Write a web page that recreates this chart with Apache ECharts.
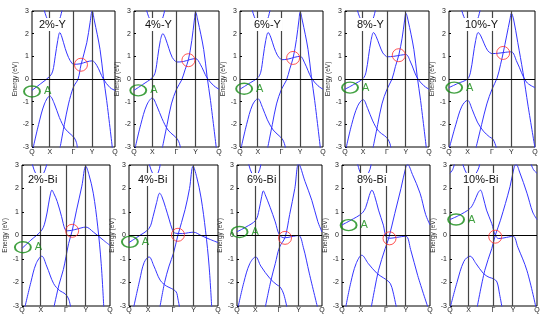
<!DOCTYPE html>
<html><head><meta charset="utf-8">
<script src="https://cdn.jsdelivr.net/npm/echarts@6/dist/echarts.min.js"></script>
<style>html,body{margin:0;padding:0;background:#fff}#c{width:550px;height:321px}</style>
</head><body><div id="c"></div>
<script>
// ---- data ----
const kpos = [0, 0.215, 0.5, 0.725, 1];
const klabels = ['Q', 'X', 'Γ', 'Y', 'Q'];
const titles = ['2%-Y', '4%-Y', '6%-Y', '8%-Y', '10%-Y', '2%-Bi', '4%-Bi', '6%-Bi', '8%-Bi', '10%-Bi'];

const bands_Y2 = [
  [[0,-0.5],[0.1,-0.22],[0.215,0.12],[0.25,0.35],[0.28,1.0],[0.31,1.7],[0.335,2.05],[0.36,1.85],[0.4,1.35],[0.44,0.95],[0.48,0.7],[0.5,0.65],[0.58,0.67],[0.66,0.76],[0.725,0.8],[0.78,0.6],[0.86,0.0],[0.94,-0.38],[1,-0.5]],
  [[0.01,-3.1],[0.08,-2.0],[0.15,-1.1],[0.215,-0.75],[0.27,-1.1],[0.33,-1.7],[0.4,-2.2],[0.47,-2.45],[0.51,-2.6],[0.535,-2.8],[0.55,-3.1]],
  [[0.335,-3.1],[0.39,-2.0],[0.44,-1.1],[0.5,-0.35],[0.555,0.0],[0.59,0.62],[0.66,1.6],[0.7,2.5],[0.725,3.0],[0.75,2.6],[0.82,1.3],[0.86,0.1],[0.9,-0.95],[0.97,-3.1]],
  [[0.13,3.4],[0.15,3.0],[0.2,2.55],[0.26,2.4],[0.32,2.55],[0.36,3.0],[0.38,3.4]]
];
const bands_Y4 = [
  [[0,-0.5],[0.1,-0.25],[0.215,0.06],[0.25,0.3],[0.28,1.0],[0.31,1.7],[0.34,2.0],[0.37,1.8],[0.41,1.35],[0.45,0.95],[0.49,0.77],[0.5,0.75],[0.58,0.77],[0.66,0.86],[0.725,0.9],[0.78,0.65],[0.86,0.05],[0.94,-0.3],[1,-0.45]],
  [[0.01,-3.1],[0.08,-2.0],[0.15,-1.15],[0.215,-0.84],[0.27,-1.2],[0.33,-1.75],[0.4,-2.25],[0.47,-2.5],[0.51,-2.65],[0.535,-2.85],[0.55,-3.1]],
  [[0.33,-3.1],[0.39,-2.0],[0.44,-1.1],[0.5,-0.45],[0.56,-0.05],[0.6,0.4],[0.64,0.85],[0.68,1.7],[0.71,2.6],[0.725,2.95],[0.75,2.6],[0.82,1.3],[0.86,0.1],[0.9,-0.95],[0.97,-3.1]],
  [[0.13,3.4],[0.15,3.0],[0.2,2.55],[0.26,2.4],[0.32,2.55],[0.36,3.0],[0.38,3.4]]
];
const bands_Y6 = [
  [[0,-0.45],[0.1,-0.22],[0.215,0.06],[0.25,0.3],[0.28,1.0],[0.31,1.7],[0.34,2.05],[0.37,1.85],[0.41,1.4],[0.45,1.05],[0.49,0.87],[0.5,0.85],[0.58,0.88],[0.66,0.96],[0.725,1.0],[0.78,0.7],[0.86,0.05],[0.94,-0.3],[1,-0.45]],
  [[0.01,-3.1],[0.08,-2.0],[0.15,-1.15],[0.215,-0.87],[0.27,-1.25],[0.33,-1.8],[0.4,-2.25],[0.47,-2.5],[0.51,-2.65],[0.535,-2.85],[0.55,-3.1]],
  [[0.33,-3.1],[0.39,-2.0],[0.44,-1.1],[0.5,-0.45],[0.56,-0.05],[0.6,0.45],[0.64,0.93],[0.68,1.75],[0.71,2.6],[0.725,2.95],[0.75,2.6],[0.82,1.3],[0.86,0.1],[0.9,-0.95],[0.97,-3.1]],
  [[0.13,3.4],[0.15,3.0],[0.2,2.55],[0.26,2.4],[0.32,2.55],[0.36,3.0],[0.38,3.4]]
];
const bands_Y8 = [
  [[0,-0.45],[0.1,-0.25],[0.215,0.02],[0.25,0.3],[0.28,1.0],[0.31,1.7],[0.34,2.05],[0.37,1.88],[0.41,1.5],[0.45,1.15],[0.49,1.0],[0.5,0.98],[0.58,1.0],[0.66,1.05],[0.725,1.08],[0.78,0.75],[0.86,0.05],[0.94,-0.3],[1,-0.45]],
  [[0.01,-3.1],[0.08,-2.0],[0.15,-1.2],[0.215,-0.91],[0.27,-1.3],[0.33,-1.85],[0.4,-2.3],[0.47,-2.5],[0.51,-2.65],[0.535,-2.85],[0.55,-3.1]],
  [[0.33,-3.1],[0.39,-2.0],[0.44,-1.1],[0.5,-0.45],[0.56,0.0],[0.6,0.55],[0.64,1.05],[0.68,1.8],[0.71,2.6],[0.725,2.9],[0.75,2.6],[0.82,1.3],[0.86,0.1],[0.9,-0.95],[0.97,-3.1]],
  [[0.13,3.4],[0.15,3.0],[0.2,2.55],[0.26,2.4],[0.32,2.55],[0.36,3.0],[0.38,3.4]]
];
const bands_Y10 = [
  [[0,-0.38],[0.1,-0.2],[0.215,0.0],[0.25,0.3],[0.28,1.0],[0.31,1.7],[0.34,2.05],[0.37,1.9],[0.41,1.55],[0.45,1.25],[0.49,1.13],[0.5,1.12],[0.58,1.14],[0.66,1.18],[0.725,1.2],[0.79,0.75],[0.9,-0.13],[1,-0.38]],
  [[0.0,-3.1],[0.08,-2.0],[0.15,-1.2],[0.215,-0.94],[0.27,-1.35],[0.33,-1.9],[0.4,-2.3],[0.47,-2.55],[0.51,-2.65],[0.535,-2.85],[0.555,-3.1]],
  [[0.31,-3.1],[0.38,-2.0],[0.44,-1.1],[0.5,-0.45],[0.56,0.05],[0.6,0.65],[0.63,1.15],[0.67,1.9],[0.71,2.65],[0.725,2.9],[0.75,2.65],[0.8,1.6],[0.86,0.3],[0.92,-1.2],[1.0,-3.05]],
  [[0.13,3.4],[0.15,3.0],[0.2,2.55],[0.26,2.4],[0.32,2.55],[0.36,3.0],[0.38,3.4]]
];
const bands_Bi2 = [
  [[0,-0.55],[0.1,-0.2],[0.225,0.23],[0.27,0.7],[0.3,1.3],[0.325,1.8],[0.34,1.93],[0.36,1.8],[0.4,1.45],[0.45,0.8],[0.49,0.25],[0.52,0.2],[0.6,0.25],[0.67,0.32],[0.725,0.36],[0.81,0.15],[0.925,-0.2],[1,-0.42]],
  [[0.03,-3.1],[0.1,-2.0],[0.16,-1.2],[0.225,-0.88],[0.28,-1.3],[0.36,-2.05],[0.43,-2.35],[0.49,-2.48],[0.53,-2.7],[0.555,-3.1]],
  [[0.36,-3.1],[0.42,-2.1],[0.47,-1.45],[0.5,-0.9],[0.53,-0.34],[0.57,0.2],[0.62,1.08],[0.68,2.1],[0.725,2.95],[0.76,2.6],[0.81,1.8],[0.86,0.4],[0.9,-1.2],[0.93,-3.1]],
  [[0.1,3.4],[0.12,3.0],[0.16,2.6],[0.2,2.45],[0.24,2.6],[0.28,3.0],[0.3,3.4]]
];
const bands_Bi4 = [
  [[0,-0.3],[0.1,-0.05],[0.225,0.3],[0.27,0.8],[0.31,1.4],[0.345,1.8],[0.37,1.65],[0.41,1.2],[0.45,0.7],[0.49,0.22],[0.52,0.1],[0.6,0.08],[0.67,0.12],[0.725,0.14],[0.81,0.0],[0.9,-0.15],[1,-0.3]],
  [[0.05,-3.1],[0.12,-1.9],[0.17,-1.15],[0.225,-0.91],[0.28,-1.3],[0.35,-1.9],[0.42,-2.15],[0.48,-2.26],[0.53,-2.4],[0.55,-2.7],[0.57,-3.1]],
  [[0.345,-3.1],[0.4,-2.0],[0.45,-1.3],[0.5,-0.75],[0.55,0.02],[0.63,1.1],[0.68,2.0],[0.72,2.95],[0.76,2.5],[0.81,1.6],[0.86,0.2],[0.9,-1.3],[0.93,-3.1]],
  [[0.2,3.4],[0.23,3.0],[0.27,2.6],[0.3,2.5],[0.33,2.7],[0.35,3.0],[0.36,3.4]]
];
const bands_Bi6 = [
  [[0,0.16],[0.1,0.35],[0.22,0.65],[0.26,1.1],[0.29,1.65],[0.31,1.9],[0.33,1.75],[0.39,1.2],[0.45,0.58],[0.5,0.02],[0.56,-0.1],[0.64,-0.05],[0.725,0.0],[0.78,-0.5],[0.85,-1.6],[0.95,-3.1]],
  [[0.01,-3.1],[0.08,-2.0],[0.15,-1.2],[0.22,-0.91],[0.28,-1.3],[0.39,-1.84],[0.47,-2.1],[0.51,-2.2],[0.55,-2.5],[0.59,-3.1]],
  [[0.33,-3.1],[0.4,-1.9],[0.45,-1.2],[0.5,-0.5],[0.565,-0.08],[0.62,0.9],[0.68,2.0],[0.725,3.05],[0.8,2.3],[0.88,1.5],[0.95,0.6],[1,0.15]],
  [[0.12,3.4],[0.14,3.0],[0.18,2.6],[0.21,2.5],[0.25,2.65],[0.28,3.0],[0.29,3.4]]
];
const bands_Bi8 = [
  [[0,0.45],[0.1,0.65],[0.225,0.94],[0.27,1.2],[0.31,1.7],[0.34,1.93],[0.37,1.7],[0.415,1.08],[0.47,0.44],[0.5,-0.04],[0.54,-0.12],[0.62,-0.08],[0.725,-0.03],[0.78,-0.6],[0.86,-1.7],[0.98,-3.1]],
  [[0.04,-3.1],[0.1,-2.0],[0.16,-1.2],[0.225,-0.84],[0.3,-1.2],[0.4,-1.62],[0.47,-1.8],[0.51,-1.9],[0.55,-2.05],[0.58,-2.4],[0.62,-3.1]],
  [[0.33,-3.1],[0.37,-2.3],[0.415,-1.48],[0.49,-0.56],[0.53,-0.13],[0.6,0.94],[0.67,2.0],[0.725,2.9],[0.745,3.02],[0.8,2.6],[0.887,1.8],[0.95,0.9],[1,0.45]],
  [[0.17,3.4],[0.18,3.0],[0.22,2.6],[0.26,2.5],[0.3,2.65],[0.33,3.0],[0.34,3.4]]
];
const bands_Bi10 = [
  [[0,0.68],[0.1,0.85],[0.23,1.15],[0.28,1.45],[0.32,1.8],[0.35,1.93],[0.38,1.65],[0.42,1.08],[0.48,0.51],[0.52,0.02],[0.56,-0.13],[0.65,-0.08],[0.725,-0.03],[0.78,-0.5],[0.885,-1.5],[0.99,-3.1]],
  [[0,-3.1],[0.08,-2.0],[0.16,-1.1],[0.23,-0.88],[0.3,-1.2],[0.385,-1.62],[0.45,-1.78],[0.5,-1.84],[0.54,-1.98],[0.57,-2.5],[0.6,-3.1]],
  [[0.31,-3.1],[0.4,-1.48],[0.48,-0.56],[0.52,0.0],[0.58,0.65],[0.69,2.08],[0.74,2.95],[0.76,3.02],[0.8,2.7],[0.885,1.8],[0.95,1.0],[1,0.68]],
  [[0.13,3.4],[0.15,3.0],[0.2,2.6],[0.25,2.5],[0.3,2.65],[0.34,3.0],[0.35,3.4]],
  [[0,2.65],[0.03,2.8],[0.06,3.15]],
  [[0.92,3.15],[0.96,2.8],[1,2.65]]
];
const allBands = [bands_Y2, bands_Y4, bands_Y6, bands_Y8, bands_Y10, bands_Bi2, bands_Bi4, bands_Bi6, bands_Bi8, bands_Bi10];

const redCircles = [[0.59,0.63],[0.64,0.83],[0.64,0.93],[0.64,1.05],[0.63,1.15],[0.57,0.2],[0.55,0.03],[0.565,-0.1],[0.54,-0.12],[0.52,-0.05]];
const aMarks = [[0.0,-0.55],[0.05,-0.5],[0.05,-0.43],[0.06,-0.38],[0.06,-0.38],[0.01,-0.5],[0.01,-0.27],[0.03,0.15],[0.075,0.44],[0.07,0.68]];

// ---- layout ----
const gL = [32,134,240,345,449, 22,129,237,342,450];
const gW = [83,85,83,84,86, 88,89,85,88,87];
const gT = [11,11,11,11,11, 165,165,165,165,165];
const gH = [136,136,136,136,136, 141,141,141,141,141];
const tL = [37,143,252,355,463, 26,136,245,355,461];
const tT = [18,18,18,18,18, 173,173,173,173,173];

const FONT = 'Liberation Sans, Arial, sans-serif';
const BLUE = '#3535ff';
const grid = [], xAxis = [], yAxis = [], series = [], title = [];
for (let i = 0; i < 10; i++) {
  grid.push({left: gL[i], top: gT[i], width: gW[i], height: gH[i], show: true, borderColor: '#000', borderWidth: 1, backgroundColor: 'transparent'});
  xAxis.push({gridIndex: i, type: 'value', min: 0, max: 1,
    axisLine: {show: false}, axisTick: {show: false}, splitLine: {show: false},
    axisLabel: {customValues: kpos, formatter: v => klabels[kpos.indexOf(v)], fontSize: 7, margin: i < 5 ? 2 : 1, color: '#222', fontFamily: FONT, showMinLabel: true, showMaxLabel: true, hideOverlap: false}});
  yAxis.push({gridIndex: i, type: 'value', min: -3, max: 3, interval: 1,
    axisLine: {show: false}, axisTick: {show: true, inside: true, length: 2, lineStyle: {color: '#000'}}, splitLine: {show: false},
    axisLabel: {fontSize: 7, margin: 3, color: '#222', fontFamily: FONT},
    name: 'Energy (eV)', nameLocation: 'middle', nameGap: 10, nameTextStyle: {fontSize: 6.5, color: '#333', fontFamily: FONT}});
  title.push({text: titles[i], left: tL[i], top: tT[i], padding: [1, 2], backgroundColor: '#fff',
    textStyle: {fontSize: 11, fontWeight: 'normal', color: '#111', fontFamily: FONT}});
  allBands[i].forEach((b, j) => {
    const s = {type: 'line', xAxisIndex: i, yAxisIndex: i, data: b, smooth: 0.35, symbol: 'none', silent: true, clip: true,
      lineStyle: {color: BLUE, width: 1}, z: 3};
    if (j === 0) {
      s.markLine = {silent: true, symbol: 'none', label: {show: false}, animation: false,
        lineStyle: {color: '#444', type: 'solid', width: 1.2},
        data: [{xAxis: kpos[1]}, {xAxis: kpos[2]}, {xAxis: kpos[3]}, {yAxis: 0, lineStyle: {color: '#000', width: 1, type: 'solid'}}]};
    }
    series.push(s);
  });
  series.push({type: 'scatter', xAxisIndex: i, yAxisIndex: i, data: [redCircles[i]], symbol: 'circle', symbolSize: 13, clip: false, silent: true, z: 5,
    itemStyle: {color: 'rgba(0,0,0,0)', borderColor: '#ff2a2a', borderWidth: 1}});
  series.push({type: 'scatter', xAxisIndex: i, yAxisIndex: i, data: [aMarks[i]], symbol: 'circle', symbolSize: [16, 11], clip: false, silent: true, z: 5,
    itemStyle: {color: 'rgba(0,0,0,0)', borderColor: '#128a12', borderWidth: 1.6},
    label: {show: true, formatter: 'A', position: 'right', distance: 3, color: '#128a12', fontSize: 11, fontFamily: FONT}});
}
const chart = echarts.init(document.getElementById('c'), null, {renderer: 'canvas'});
chart.setOption({animation: false, backgroundColor: '#fff', title, grid, xAxis, yAxis, series});
</script></body></html>
